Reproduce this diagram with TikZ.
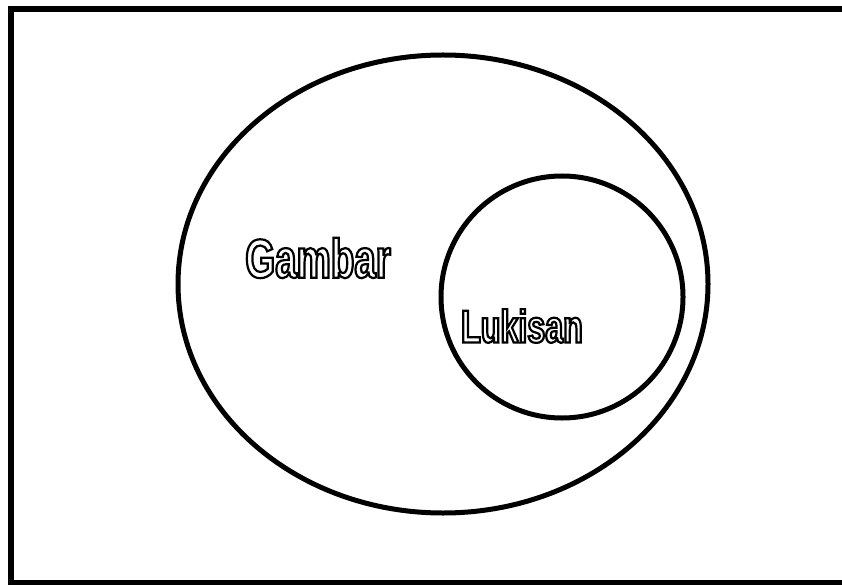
\documentclass[tikz,border=0pt]{standalone}
\usepackage{fontspec}
\usetikzlibrary{shapes.geometric}
\newfontfamily\labelfont[FakeStretch=0.7, UprightFont=*-Bold]{Liberation Sans}
% hollow letters: stroke only, no fill
\newcommand\hollow[1]{\special{pdf:literal direct 1 Tr 2.2 w 0 G}#1\special{pdf:literal direct 0 Tr}}

\begin{document}
\begin{tikzpicture}[
    x=1pt, y=-1pt,
    set/.style={draw=black, line width=5pt, inner sep=0pt},
    setname/.style={inner sep=0pt}
]
\useasboundingbox (0,0) rectangle (842,585);

% frame, open on the right
\draw[line width=6pt] (850,9) -- (11,9) -- (11,583) -- (850,583);

\node[set, ellipse, minimum width=530pt, minimum height=458pt] (gambar) at (443,284) {};
\node[set, circle, minimum size=242pt] (lukisan) at (562,297) {};

\node[setname, font=\labelfont\fontsize{55}{55}\selectfont] (gambarlbl) at (318,258) {\hollow{Gambar}};
\node[setname, font=\labelfont\fontsize{46}{46}\selectfont] (lukisanlbl) at (522,326) {\hollow{Lukisan}};

\end{tikzpicture}
\end{document}
